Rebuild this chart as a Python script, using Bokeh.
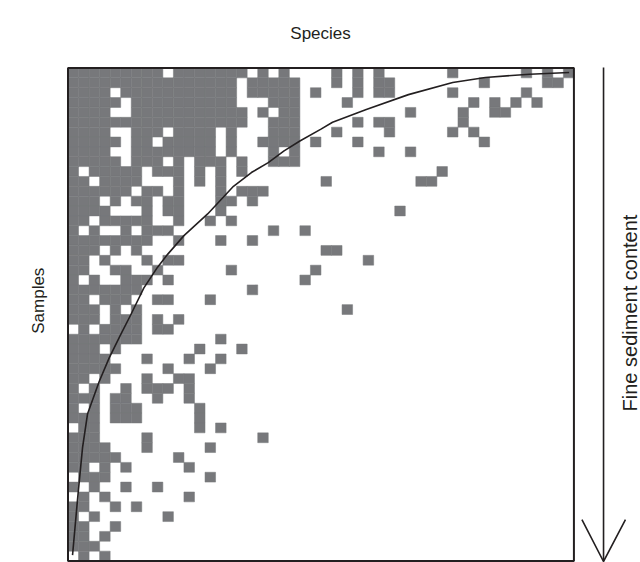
from bokeh.plotting import figure
from bokeh.models import Range1d, ColumnDataSource
from bokeh.embed import file_html
from bokeh.resources import INLINE
from bokeh.core.properties import value

# ---------------- data ----------------
N_SPECIES = 48
N_SAMPLES = 50

# presence (#) / absence (.) matrix, one string per sample (row), species in columns
ROWS = [
    "######## #.###### #.#.#... .#.#.#.. ....#... ...#.#.#",
    "######## ######## .#####.. .#.#.##. .......# .....##.",
    "####.### ######## .#####.# ...#.##. ....#... ...#....",
    "#####.## ######## ...###.. ..#..... ......#. #.#.#...",
    "####..## ######## #.#.##.. ........ #....#.. ##......",
    "######## ######## #..###.. ...#.##. .....#..",
    "####..## #.####.# ...###.. .#....#. ....#.#.",
    "#####.## .#####.# ..####.# ...#.... .......#",
    "####..## ######.# ...#.#.. .....#.. #.......",
    "#####.## #.#.###. #..###..",
    "#.#####. ###.#.#. #....... ........ ...#....",
    "##.####. ..#.#.#. ........ #....... .##.....",
    "######.# #.#...#. ###.....",
    "###.#.## .##...## .#......",
    "####...# .##...#. ........ .......#",
    "##.##### ..#..#.#",
    "#.#..#.# ##...... ...#..#.",
    "######## ..#...#. .#......",
    "###.#.#. ........ ........ ##......",
    "##.#...# .##..... ........ ....#...",
    "##..##.. #......# .......#",
    "#.#..### .#...... ......#.",
    "#######. ........ .#......",
    "##.###.. ##...#..",
    "###.#.#. ........ ........ ..#.....",
    "###.###. #.#.....",
    ".#.####. ##......",
    "#######. ......#.",
    "###.#... ....#... #.......",
    "####...# ...#..#.",
    "#####... .#...#..",
    "##.#...# ..##....",
    "#.#..#.# ##.#....",
    "###.##.. #..#....",
    "#.#.###. ....#...",
    "###.###. ....#...",
    ".##..... ....#.#.",
    "###....# ........ ..#.....",
    "####...# .....#..",
    "#####... ..#.....",
    "##.#.#.. ...#....",
    ".###.... .....#..",
    "#.#..#.. #.......",
    ".#.#.... ...#....",
    "##..#.#.",
    "#.#..... .#......",
    "##..#...",
    "##.#....",
    "###.....",
    ".#.#....",
]

# fitted curve (species position, sample position)
CURVE_X = [0.43, 0.9, 1.38, 1.85, 2.96, 3.91, 5.02, 5.97, 7.2, 8.5, 9.45, 11.0, 13.25,
           15.7, 17.4, 19.0, 20.5, 22.0, 24.0, 25.1, 28.3, 32.3, 36.5, 39.6, 43.8, 47.55]
CURVE_Y = [49.4, 43.8, 38.5, 35.1, 31.8, 29.4, 27.0, 25.0, 22.3, 20.2, 18.9, 17.0, 14.8,
           12.0, 10.6, 9.6, 8.4, 7.4, 6.2, 5.5, 4.2, 2.7, 1.47, 0.96, 0.63, 0.46]

LABEL_TOP = "Species"
LABEL_LEFT = "Samples"
LABEL_RIGHT = "Fine sediment content"

# ---------------- styles ----------------
CELL = "#77787b"
INK = "#231f20"
FONT = value("Liberation Sans")

left, right, top, bottom = [], [], [], []
for r, s in enumerate(ROWS):
    s = s.replace(" ", "").ljust(N_SPECIES, ".")
    for c, ch in enumerate(s):
        if ch == "#":
            left.append(c)
            right.append(c + 1)
            top.append(r)
            bottom.append(r + 1)

W, H = 640, 562
CW, CH = 10.54, 9.86
X0, Y0 = 67.5, 67.5
p = figure(width=W, height=H,
           x_range=Range1d(-X0 / CW, (W - X0) / CW),
           y_range=Range1d((H - Y0) / CH, -Y0 / CH),
           x_axis_location=None, y_axis_location=None,
           output_backend="svg", toolbar_location=None, min_border=0)
p.grid.visible = False
p.outline_line_color = None
p.background_fill_color = "white"
p.border_fill_color = "white"

src = ColumnDataSource(dict(left=left, right=right, top=top, bottom=bottom))
p.quad(left="left", right="right", top="top", bottom="bottom", source=src,
       fill_color=CELL, line_color=CELL, line_width=0.5)

p.line(CURVE_X, CURVE_Y, line_color=INK, line_width=1.6, line_join="round")

# frame around the matrix
p.quad(left=[0], right=[N_SPECIES], top=[0], bottom=[N_SAMPLES],
       fill_color=None, line_color=INK, line_width=2)

# arrow on the right
AX = 50.81
p.line([AX, AX], [-0.05, 49.9], line_color=INK, line_width=1.6)
p.line([48.76, AX, 52.89], [45.8, 50.05, 45.8], line_color=INK, line_width=1.6, line_join="miter")

p.text(x=[23.96], y=[-3.5], text=[LABEL_TOP], text_align="center", text_baseline="middle",
       text_font=FONT, text_font_size="17px", text_color=INK)
p.text(x=[-2.8], y=[23.6], text=[LABEL_LEFT], angle=1.5708, text_align="center", text_baseline="middle",
       text_font=FONT, text_font_size="17px", text_color=INK)
p.text(x=[53.3], y=[24.85], text=[LABEL_RIGHT], angle=1.5708, text_align="center", text_baseline="middle",
       text_font=FONT, text_font_size="20px", text_color=INK)

open("out.html", "w").write(file_html(p, INLINE))
